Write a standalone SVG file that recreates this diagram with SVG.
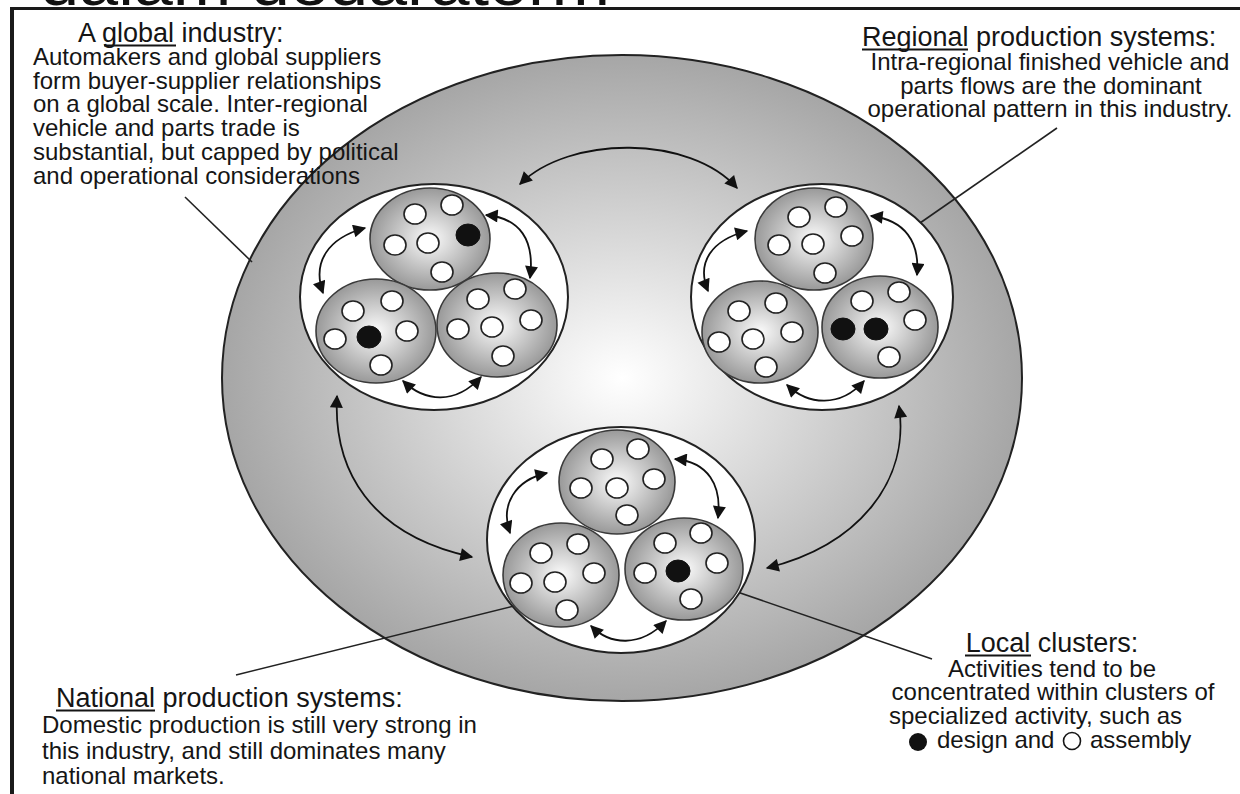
<svg xmlns="http://www.w3.org/2000/svg" width="1240" height="794" viewBox="0 0 1240 794">
<defs>
<radialGradient id="gBig" cx="50%" cy="50%" r="50%">
<stop offset="0%" stop-color="#ffffff"/>
<stop offset="100%" stop-color="#a6a6a6"/>
</radialGradient>
<radialGradient id="gSub" cx="50%" cy="50%" r="50%">
<stop offset="0%" stop-color="#fbfbfb"/>
<stop offset="100%" stop-color="#999999"/>
</radialGradient>
<marker id="ah" viewBox="0 0 10 10" refX="9" refY="5" markerWidth="16" markerHeight="13" markerUnits="userSpaceOnUse" orient="auto-start-reverse">
<path d="M0,0 L10,5 L0,10 z" fill="#111"/>
</marker>
</defs>
<style>
text{font-family:"Liberation Sans",Arial,sans-serif;fill:#151515}
.t{font-size:27px}
.b{font-size:24px}
.big{fill:url(#gBig);stroke:#222;stroke-width:2}
.reg{fill:#fff;stroke:#222;stroke-width:2}
.sub{fill:url(#gSub);stroke:#3a3a3a;stroke-width:1.6}
.w{fill:#fff;stroke:#222;stroke-width:1.6}
.k{fill:#111;stroke:#111;stroke-width:1}
.arr{fill:none;stroke:#111;stroke-width:1.8;marker-start:url(#ah);marker-end:url(#ah)}
.ptr{fill:none;stroke:#222;stroke-width:1.6}
.ul{stroke:#151515;stroke-width:2}
</style>
<rect x="0" y="0" width="1240" height="794" fill="#fff"/>
<text x="40" y="5" textLength="570" lengthAdjust="spacingAndGlyphs" style="font-size:64px;fill:#111">dalam dedaratorm</text>
<g id="frame">
<line x1="10" y1="8.5" x2="1240" y2="8.5" stroke="#1a1a1a" stroke-width="3"/>
<line x1="12" y1="7" x2="12" y2="794" stroke="#1a1a1a" stroke-width="4"/>
</g>
<g id="world">
<ellipse class="big" cx="622" cy="378" rx="400" ry="323"/>
</g>
<g id="connectors">
<line class="ptr" x1="185" y1="197" x2="252" y2="262"/>
<line class="ptr" x1="1057" y1="128" x2="920" y2="223"/>
<line class="ptr" x1="236" y1="675" x2="530" y2="602"/>
<line class="ptr" x1="682" y1="573" x2="932" y2="659"/>
<path class="arr" d="M520,184 C570,135 690,135 737,188"/>
<path class="arr" d="M337,396 C333,470 370,535 472,557"/>
<path class="arr" d="M899,406 C910,480 860,545 767,568"/>
</g>
<g id="region-left">
<ellipse class="reg" cx="434" cy="297" rx="134" ry="113"/>
<ellipse class="sub" cx="430" cy="239" rx="60" ry="51"/>
<ellipse class="sub" cx="376" cy="331" rx="60" ry="52"/>
<ellipse class="sub" cx="497" cy="325" rx="60" ry="52"/>
<ellipse class="w" cx="415" cy="214" rx="11" ry="10"/>
<ellipse class="w" cx="452" cy="205" rx="11" ry="10"/>
<ellipse class="w" cx="395" cy="245" rx="11" ry="10"/>
<ellipse class="w" cx="428" cy="243" rx="11" ry="10"/>
<ellipse class="k" cx="468" cy="235" rx="12" ry="11"/>
<ellipse class="w" cx="442" cy="272" rx="11" ry="10"/>
<ellipse class="w" cx="353" cy="311" rx="11" ry="10"/>
<ellipse class="w" cx="392" cy="301" rx="11" ry="10"/>
<ellipse class="w" cx="335" cy="339" rx="11" ry="10"/>
<ellipse class="k" cx="369" cy="337" rx="12" ry="11"/>
<ellipse class="w" cx="407" cy="331" rx="11" ry="10"/>
<ellipse class="w" cx="381" cy="365" rx="11" ry="10"/>
<ellipse class="w" cx="478" cy="299" rx="11" ry="10"/>
<ellipse class="w" cx="515" cy="289" rx="11" ry="10"/>
<ellipse class="w" cx="458" cy="329" rx="11" ry="10"/>
<ellipse class="w" cx="492" cy="327" rx="11" ry="10"/>
<ellipse class="w" cx="531" cy="320" rx="11" ry="10"/>
<ellipse class="w" cx="503" cy="356" rx="11" ry="10"/>
<path class="arr" d="M365,228 C328,238 312,262 323,293"/>
<path class="arr" d="M486,215 C520,218 535,240 530,278"/>
<path class="arr" d="M403,381 C425,402 455,405 481,377"/>
</g>
<g id="region-right">
<ellipse class="reg" cx="822" cy="297" rx="131" ry="113"/>
<ellipse class="sub" cx="814" cy="239" rx="59" ry="51"/>
<ellipse class="sub" cx="760" cy="332" rx="58" ry="51"/>
<ellipse class="sub" cx="880" cy="327" rx="58" ry="51"/>
<ellipse class="w" cx="799" cy="217" rx="11" ry="10"/>
<ellipse class="w" cx="836" cy="207" rx="11" ry="10"/>
<ellipse class="w" cx="779" cy="245" rx="11" ry="10"/>
<ellipse class="w" cx="813" cy="244" rx="11" ry="10"/>
<ellipse class="w" cx="852" cy="236" rx="11" ry="10"/>
<ellipse class="w" cx="825" cy="273" rx="11" ry="10"/>
<ellipse class="w" cx="739" cy="311" rx="11" ry="10"/>
<ellipse class="w" cx="776" cy="303" rx="11" ry="10"/>
<ellipse class="w" cx="719" cy="342" rx="11" ry="10"/>
<ellipse class="w" cx="753" cy="339" rx="11" ry="10"/>
<ellipse class="w" cx="792" cy="332" rx="11" ry="10"/>
<ellipse class="w" cx="766" cy="367" rx="11" ry="10"/>
<ellipse class="w" cx="862" cy="301" rx="11" ry="10"/>
<ellipse class="w" cx="899" cy="292" rx="11" ry="10"/>
<ellipse class="k" cx="843" cy="329" rx="12" ry="11"/>
<ellipse class="k" cx="876" cy="329" rx="12" ry="11"/>
<ellipse class="w" cx="915" cy="320" rx="11" ry="10"/>
<ellipse class="w" cx="889" cy="357" rx="11" ry="10"/>
<path class="arr" d="M747,231 C712,240 696,262 708,291"/>
<path class="arr" d="M871,216 C905,220 920,242 917,275"/>
<path class="arr" d="M787,385 C808,405 840,408 864,381"/>
</g>
<g id="region-bottom">
<ellipse class="reg" cx="621" cy="540" rx="134" ry="113"/>
<ellipse class="sub" cx="617" cy="482" rx="58" ry="52"/>
<ellipse class="sub" cx="561" cy="575" rx="58" ry="52"/>
<ellipse class="sub" cx="684" cy="569" rx="59" ry="51"/>
<ellipse class="w" cx="602" cy="459" rx="11" ry="10"/>
<ellipse class="w" cx="638" cy="449" rx="11" ry="10"/>
<ellipse class="w" cx="581" cy="488" rx="11" ry="10"/>
<ellipse class="w" cx="617" cy="488" rx="11" ry="10"/>
<ellipse class="w" cx="654" cy="479" rx="11" ry="10"/>
<ellipse class="w" cx="627" cy="515" rx="11" ry="10"/>
<ellipse class="w" cx="541" cy="553" rx="11" ry="10"/>
<ellipse class="w" cx="578" cy="544" rx="11" ry="10"/>
<ellipse class="w" cx="521" cy="583" rx="11" ry="10"/>
<ellipse class="w" cx="555" cy="582" rx="11" ry="10"/>
<ellipse class="w" cx="594" cy="573" rx="11" ry="10"/>
<ellipse class="w" cx="567" cy="610" rx="11" ry="10"/>
<ellipse class="w" cx="665" cy="543" rx="11" ry="10"/>
<ellipse class="w" cx="701" cy="533" rx="11" ry="10"/>
<ellipse class="w" cx="645" cy="573" rx="11" ry="10"/>
<ellipse class="k" cx="678" cy="571" rx="12" ry="11"/>
<ellipse class="w" cx="717" cy="563" rx="11" ry="10"/>
<ellipse class="w" cx="691" cy="599" rx="11" ry="10"/>
<path class="arr" d="M547,473 C515,480 500,505 510,533"/>
<path class="arr" d="M675,459 C708,462 722,485 718,518"/>
<path class="arr" d="M591,626 C610,645 640,648 666,621"/>
</g>
<g id="label-global">
<text class="t" x="78" y="42">A global industry:</text>
<line class="ul" x1="104" y1="45.5" x2="176" y2="45.5"/>
<text class="b" x="33" y="65">Automakers and global suppliers</text>
<text class="b" x="33" y="88.7">form buyer-supplier relationships</text>
<text class="b" x="33" y="112.4">on a global scale.  Inter-regional</text>
<text class="b" x="33" y="136.1">vehicle and parts trade is</text>
<text class="b" x="33" y="159.8">substantial, but capped by political</text>
<text class="b" x="33" y="183.5">and operational considerations</text>
</g>
<g id="label-regional">
<text class="t" x="862" y="46">Regional production systems:</text>
<line class="ul" x1="862" y1="49.5" x2="968" y2="49.5"/>
<text class="b" x="1050" y="70" text-anchor="middle">Intra-regional finished vehicle and</text>
<text class="b" x="1051" y="94" text-anchor="middle">parts flows are the dominant</text>
<text class="b" x="1050" y="117" text-anchor="middle">operational pattern in this industry.</text>
</g>
<g id="label-national">
<text class="t" x="56" y="707">National production systems:</text>
<line class="ul" x1="56" y1="710.5" x2="155" y2="710.5"/>
<text class="b" x="42" y="733">Domestic production is still very strong in</text>
<text class="b" x="42" y="759">this industry, and still dominates many</text>
<text class="b" x="42" y="784">national markets.</text>
</g>
<g id="label-local">
<text class="t" x="1052" y="652" text-anchor="middle">Local clusters:</text>
<line class="ul" x1="965" y1="655.5" x2="1031" y2="655.5"/>
<text class="b" x="1052" y="677" text-anchor="middle">Activities tend to be</text>
<text class="b" x="1053" y="700" text-anchor="middle">concentrated within clusters of</text>
<text class="b" x="889" y="724">specialized activity, such as</text>
<circle cx="918" cy="742" r="9" fill="#111"/>
<text class="b" x="937" y="748">design and</text>
<circle cx="1072" cy="741" r="8.5" fill="#fff" stroke="#151515" stroke-width="1.6"/>
<text class="b" x="1090" y="748">assembly</text>
</g>
</svg>
